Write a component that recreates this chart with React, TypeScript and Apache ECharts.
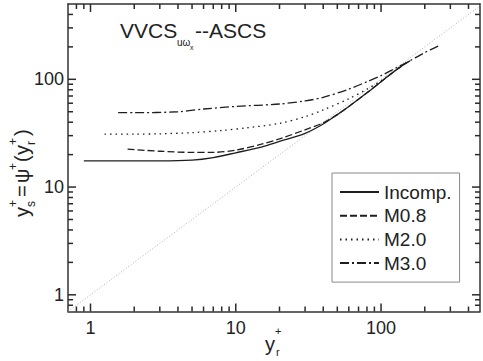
import React, { useEffect, useRef } from "react";
import * as echarts from "echarts";

const seriesNames = ["Incomp.", "M0.8", "M2.0", "M3.0"];

const incomp: number[][] = [
  [0.9, 17.5], [2, 17.5], [3, 17.5], [5, 17.8], [7, 18.8], [10, 20.8], [15, 23.5],
  [20, 26.5], [30, 31.5], [40, 38.5], [50, 47], [60, 56], [80, 75], [100, 95],
  [120, 115], [150, 143],
];
const m08: number[][] = [
  [1.8, 22.5], [3, 21.5], [5, 21], [7, 21], [10, 22], [15, 25], [20, 28], [30, 34],
  [40, 39.5], [50, 47], [60, 56], [80, 75], [100, 95], [130, 125], [160, 150],
];
const m20: number[][] = [
  [1.25, 31], [2, 31], [3, 31.2], [5, 32], [8, 33.5], [12, 35.5], [20, 39], [30, 45],
  [40, 52], [60, 66], [80, 81], [100, 97], [130, 125], [160, 150],
];
const m30: number[][] = [
  [1.55, 49], [2, 49], [4, 50], [6, 53], [10, 56], [20, 59], [30, 63], [40, 68],
  [60, 81], [80, 95], [100, 108], [130, 130], [150, 143], [200, 177], [250, 205],
];
const diagonal: number[][] = [[0.7, 0.7], [500, 500]];

const majorTicks = [1, 10, 100];
const minorTicks = [0.8, 0.9, 2, 3, 4, 5, 6, 7, 8, 9, 20, 30, 40, 50, 60, 70, 80, 90, 200, 300, 400];
const allTicks = [...majorTicks, ...minorTicks];

const X_MIN = 0.7, X_MAX = 480, Y_MIN = 0.7, Y_MAX = 500;

const FONT = "'Liberation Sans', Arial, sans-serif";
const AX = "#333";
const INK = "#1e1e1e";

const isPow10 = (v: number) => Math.abs(Math.log10(v) - Math.round(Math.log10(v))) < 1e-6;

function axis(kind: "x" | "y", position: string, primary: boolean) {
  return {
    type: "log",
    logBase: 10,
    min: kind === "x" ? X_MIN : Y_MIN,
    max: kind === "x" ? X_MAX : Y_MAX,
    position,
    offset: 0,
    axisLine: { show: true, onZero: false, lineStyle: { color: AX, width: 1.5 } },
    axisTick: { show: false },
    axisLabel: primary
      ? {
          show: true,
          formatter: (v: number) => (isPow10(v) ? String(Math.round(v)) : ""),
          fontSize: 18,
          fontFamily: FONT,
          color: "#222",
          margin: kind === "x" ? 7 : 4,
        }
      : { show: false },
    splitLine: { show: false },
    minorTick: { show: false },
  };
}

function txt(text: string, x: number, y: number, size: number, extra: any = {}) {
  return {
    type: "text",
    x,
    y,
    style: {
      text,
      fontSize: size,
      fontFamily: FONT,
      fill: "#222",
      verticalAlign: "middle",
      align: "left",
      ...extra,
    },
  };
}

export default function App() {
  const ref = useRef<HTMLDivElement>(null);
  useEffect(() => {
    if (!ref.current) return;
    const chart = echarts.init(ref.current, undefined, { renderer: "svg" });
    const line = (name: string, data: number[][], type: any) => ({
      name,
      type: "line",
      data,
      symbol: "none",
      smooth: 0.3,
      lineStyle: { color: INK, width: 1.3, type },
      itemStyle: { color: INK },
      xAxisIndex: 0,
      yAxisIndex: 0,
    });
    const len = (v: number) => (isPow10(v) ? 8 : 5);
    const tl = (x1: number, y1: number, x2: number, y2: number) => ({
      type: "line",
      shape: { x1, y1, x2, y2 },
      style: { stroke: "#2a2a2a", lineWidth: 1.5 },
    });
    chart.setOption({
      animation: false,
      backgroundColor: "#fff",
      grid: { left: 68, right: 2, top: 4, bottom: 49.5 },
      xAxis: [axis("x", "bottom", true), axis("x", "top", false)],
      yAxis: [axis("y", "left", true), axis("y", "right", false)],
      legend: {
        data: seriesNames,
        orient: "vertical",
        left: 332,
        top: 173,
        itemWidth: 39,
        itemHeight: 14,
        itemGap: 3.7,
        padding: [9, 8, 9, 7],
        borderColor: "#888",
        borderWidth: 1,
        itemStyle: { color: "transparent", borderWidth: 0, opacity: 0 },
        textStyle: { fontSize: 19, color: "#222", fontFamily: FONT, lineHeight: 20 },
      },
      series: [
        {
          name: "diag",
          type: "line",
          data: diagonal,
          symbol: "none",
          lineStyle: { color: "#999", width: 0.8, type: [1, 2] },
          silent: true,
        },
        line(seriesNames[0], incomp, "solid"),
        line(seriesNames[1], m08, [7, 3]),
        line(seriesNames[2], m20, [1.5, 4]),
        line(seriesNames[3], m30, [9, 3, 2, 3]),
        {
          name: "xTicks",
          type: "custom",
          silent: true,
          clip: false,
          z: 10,
          data: allTicks.map((v) => [v, Y_MIN]),
          renderItem: (params: any, api: any) => {
            const v = api.value(0);
            const b = api.coord([v, Y_MIN]);
            const t = api.coord([v, Y_MAX]);
            const L = len(v);
            return {
              type: "group",
              children: [tl(b[0], b[1], b[0], b[1] - L), tl(t[0], t[1], t[0], t[1] + L)],
            };
          },
        },
        {
          name: "yTicks",
          type: "custom",
          silent: true,
          clip: false,
          z: 10,
          data: allTicks.map((v) => [X_MIN, v]),
          renderItem: (params: any, api: any) => {
            const v = api.value(1);
            const l = api.coord([X_MIN, v]);
            const r = api.coord([X_MAX, v]);
            const L = len(v);
            return {
              type: "group",
              children: [tl(l[0], l[1], l[0] + L, l[1]), tl(r[0], r[1], r[0] - L, r[1])],
            };
          },
        },
      ],
      graphic: [
        txt("VVCS", 120, 30, 21),
        txt("uω", 177, 42, 10),
        txt("x", 190, 47, 7),
        txt("--ASCS", 195, 30, 21),
        txt("y", 265, 344, 20),
        txt("r", 276, 352, 11),
        txt("+", 275, 331, 11),
        {
          type: "group",
          x: 29,
          y: 217,
          rotation: Math.PI / 2,
          children: [
            txt("y", 0, -7, 20),
            txt("s", 10, 2, 12),
            txt("+", 10, -16, 12),
            txt("=", 20, -7, 20),
            txt("ψ", 34, -7, 20),
            txt("+", 47, -16, 12),
            txt("(", 55, -7, 20),
            txt("y", 62, -7, 20),
            txt("r", 72, 2, 12),
            txt("+", 72, -16, 12),
            txt(")", 81, -7, 20),
          ],
        },
      ],
    });
    return () => chart.dispose();
  }, []);
  return <div ref={ref} style={{ position: "absolute", left: 0, top: 0, width: 483, height: 361 }} />;
}
